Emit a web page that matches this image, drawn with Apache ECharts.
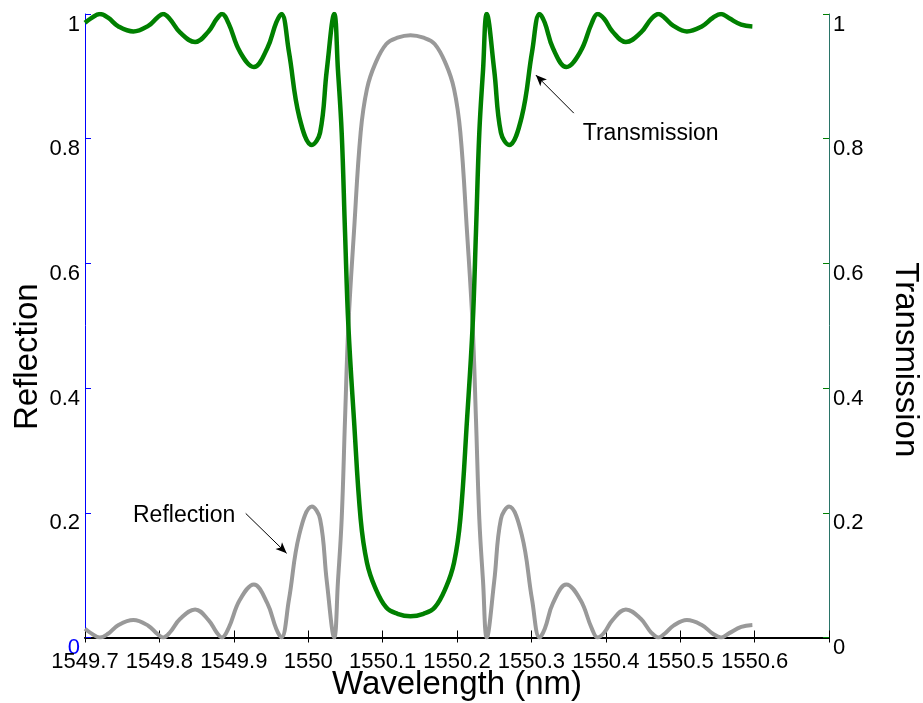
<!DOCTYPE html>
<html><head><meta charset="utf-8">
<script src="https://cdn.jsdelivr.net/npm/echarts@6/dist/echarts.min.js"></script>
<style>html,body{margin:0;padding:0;background:#fff}#c{width:923px;height:703px}</style>
</head><body><div id="c"></div>
<script>
// ---- data ----
const wavelength = [1549.700,1549.708,1549.720,1549.731,1549.745,1549.765,1549.785,1549.797,1549.805,1549.814,
  1549.828,1549.848,1549.866,1549.877,1549.884,1549.893,1549.908,1549.927,1549.945,1549.957,
  1549.964,1549.974,1549.988,1550.005,1550.016,1550.025,1550.035,1550.040,1550.045,1550.0495,
  1550.054,1550.0615,1550.0705,1550.079,1550.090,1550.105,1550.120,1550.1375,1550.155,1550.170,
  1550.185,1550.196,1550.2045,1550.2135,1550.221,1550.2255,1550.230,1550.235,1550.240,1550.250,
  1550.259,1550.270,1550.287,1550.301,1550.311,1550.318,1550.329,1550.347,1550.366,1550.381,
  1550.389,1550.398,1550.409,1550.427,1550.447,1550.461,1550.471,1550.479,1550.491,1550.509,
  1550.529,1550.544,1550.555,1550.566,1550.582,1550.597];
const reflection = [0.014,0.007,0.000,0.006,0.020,0.028,0.019,0.006,0.000,0.008,
  0.030,0.045,0.028,0.008,0.000,0.015,0.060,0.085,0.055,0.014,
  0.000,0.060,0.165,0.210,0.190,0.090,0.000,0.090,0.190,0.350,
  0.500,0.650,0.810,0.880,0.920,0.952,0.962,0.966,0.962,0.952,
  0.920,0.880,0.810,0.650,0.500,0.350,0.190,0.090,0.000,0.090,
  0.190,0.210,0.165,0.060,0.000,0.014,0.055,0.085,0.060,0.015,
  0.000,0.008,0.028,0.045,0.030,0.008,0.000,0.006,0.019,0.028,
  0.020,0.006,0.000,0.007,0.017,0.020];
const transmission = [0.986,0.993,1.000,0.994,0.980,0.972,0.981,0.994,1.000,0.992,
  0.970,0.955,0.972,0.992,1.000,0.985,0.940,0.915,0.945,0.986,
  1.000,0.940,0.835,0.790,0.810,0.910,1.000,0.910,0.810,0.650,
  0.500,0.350,0.190,0.120,0.080,0.048,0.038,0.034,0.038,0.048,
  0.080,0.120,0.190,0.350,0.500,0.650,0.810,0.910,1.000,0.910,
  0.810,0.790,0.835,0.940,1.000,0.986,0.945,0.915,0.940,0.985,
  1.000,0.992,0.972,0.955,0.970,0.992,1.000,0.994,0.981,0.972,
  0.980,0.994,1.000,0.993,0.983,0.980];
const xRange = [1549.7, 1550.7];
const xStep = 0.1;
const lastXLabel = 1550.6;
const yRange = [0, 1];
const yStep = 0.2;
const reflArrow = [[1549.916, 0.199], [1549.971, 0.135]];
const transArrow = [[1550.357, 0.841], [1550.306, 0.902]];
const reflLabelPos = [1549.7645, 0.196];
const transLabelPos = [1550.369, 0.808];

// ---- chart ----
const FONT = "'Liberation Sans', Arial, sans-serif";
const chart = echarts.init(document.getElementById('c'), null, {renderer: 'canvas'});
const pair = (xs, ys) => xs.map((x, i) => [x, ys[i]]);
const fmtX = v => {
  const r = Math.round(v * 10) / 10;
  if (r > lastXLabel + 1e-6) return '';
  return String(r);
};
const fmtY = v => String(Math.round(v * 10) / 10);

chart.setOption({
  animation: false,
  backgroundColor: '#fff',
  textStyle: {fontFamily: FONT},
  grid: {left: 85, right: 94, top: 14, bottom: 65.5, containLabel: false, outerBoundsMode: 'none'},
  xAxis: [{
    type: 'value', position: 'bottom', min: xRange[0], max: xRange[1], interval: xStep,
    axisLine: {lineStyle: {color: '#000', width: 2}},
    axisTick: {inside: true, length: 7, lineStyle: {color: '#000', width: 1}},
    axisLabel: {fontSize: 22, color: '#000', margin: 13, fontFamily: FONT, formatter: fmtX},
    splitLine: {show: false},
    name: 'Wavelength (nm)', nameLocation: 'middle', nameGap: 31, nameMoveOverlap: false,
    nameTextStyle: {fontSize: 33, color: '#000', fontFamily: FONT}
  }, {
    type: 'value', position: 'top', min: xRange[0], max: xRange[1], interval: xStep,
    axisLine: {lineStyle: {color: '#000', width: 1}},
    axisTick: {inside: true, length: 5, lineStyle: {color: '#000', width: 1}},
    axisLabel: {show: false},
    splitLine: {show: false}
  }],
  yAxis: [{
    type: 'value', position: 'left', min: yRange[0], max: yRange[1], interval: yStep,
    axisLine: {lineStyle: {color: '#0000ff', width: 1}},
    axisTick: {inside: true, length: 6, lineStyle: {color: '#0000ff', width: 1}},
    axisLabel: {fontSize: 22, margin: 5, fontFamily: FONT, formatter: fmtY,
      color: v => (Number(v) === 0 ? '#0000ff' : '#000'),
      verticalAlign: 'top', lineHeight: 21},
    splitLine: {show: false},
    name: 'Reflection', nameLocation: 'middle', nameGap: 41, nameRotate: 90, nameMoveOverlap: false,
    nameTextStyle: {fontSize: 33, color: '#000', fontFamily: FONT, padding: [0, 62, 0, 0]}
  }, {
    type: 'value', position: 'right', min: yRange[0], max: yRange[1], interval: yStep,
    axisLine: {lineStyle: {color: '#2a7468', width: 1}},
    axisTick: {inside: true, length: 6, lineStyle: {color: '#008000', width: 1}},
    axisLabel: {fontSize: 22, margin: 4, fontFamily: FONT, formatter: fmtY, color: '#000',
      verticalAlign: 'top', lineHeight: 21},
    splitLine: {show: false},
    name: 'Transmission', nameLocation: 'middle', nameGap: 60, nameRotate: -90, nameMoveOverlap: false,
    nameTextStyle: {fontSize: 33, color: '#000', fontFamily: FONT, padding: [0, 0, 0, 68]}
  }],
  series: [{
    name: 'Reflection', type: 'line', xAxisIndex: 0, yAxisIndex: 0,
    data: pair(wavelength, reflection), showSymbol: false, symbol: 'none',
    smooth: 0.4, lineStyle: {color: '#999999', width: 4}, z: 3,
    markLine: {
      silent: true, symbol: ['none', 'arrow'], symbolSize: [7, 11],
      lineStyle: {color: '#000', width: 1, type: 'solid'}, label: {show: false},
      data: [[{coord: reflArrow[0]}, {coord: reflArrow[1]}]]
    },
    markPoint: {
      silent: true, symbol: 'circle', symbolSize: 0,
      label: {show: true, position: 'right', distance: 0, color: '#000', fontSize: 23,
        fontFamily: FONT, formatter: 'Reflection', verticalAlign: 'middle'},
      data: [{coord: reflLabelPos}]
    }
  }, {
    name: 'Transmission', type: 'line', xAxisIndex: 0, yAxisIndex: 1,
    data: pair(wavelength, transmission), showSymbol: false, symbol: 'none',
    smooth: 0.4, lineStyle: {color: '#008000', width: 4.5}, z: 4,
    markLine: {
      silent: true, symbol: ['none', 'arrow'], symbolSize: [7, 11],
      lineStyle: {color: '#000', width: 1, type: 'solid'}, label: {show: false},
      data: [[{coord: transArrow[0]}, {coord: transArrow[1]}]]
    },
    markPoint: {
      silent: true, symbol: 'circle', symbolSize: 0,
      label: {show: true, position: 'right', distance: 0, color: '#000', fontSize: 23,
        fontFamily: FONT, formatter: 'Transmission', verticalAlign: 'middle'},
      data: [{coord: transLabelPos}]
    }
  }]
});
</script>
</body></html>
